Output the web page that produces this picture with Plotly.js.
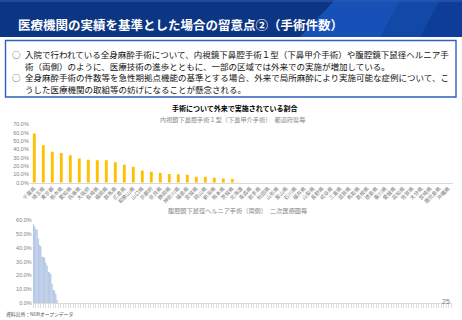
<!DOCTYPE html>
<html>
<head>
<meta charset="utf-8">
<script src="https://cdn.plot.ly/plotly-3.0.1.min.js"></script>
<style>
html,body{margin:0;padding:0;background:#fff;}
#chart{width:462px;height:320px;}
</style>
</head>
<body>
<div id="chart"></div>
<script>
// ---- data ----
const pageTitle = "医療機関の実績を基準とした場合の留意点②（手術件数）";
const bulletLines = [
  "入院で行われている全身麻酔手術について、内視鏡下鼻腔手術１型（下鼻甲介手術）や腹腔鏡下鼠径ヘルニア手",
  "術（両側）のように、医療技術の進歩とともに、一部の区域では外来での実施が増加している。",
  "全身麻酔手術の件数等を急性期拠点機能の基準とする場合、外来で局所麻酔により実施可能な症例について、こ",
  "うした医療機関の取組等の妨げになることが懸念される。"
];
const chartTitle = "手術について外来で実施されている割合";
const subTitle1 = "内視鏡下鼻腔手術１型（下鼻甲介手術）　都道府県毎";
const subTitle2 = "腹腔鏡下鼠径ヘルニア手術（両側）　二次医療圏毎";
const sourceText = "資料出所：NDBオープンデータ";
const pageNumber = "25";

const prefectures = [
  "千葉県","埼玉県","東京都","栃木県","愛知県","兵庫県","大阪府","長崎県","福岡県","群馬県",
  "広島県","和歌山県","山口県","京都府","奈良県","静岡県","神奈川県","福島県","宮城県","岡山県",
  "新潟県","熊本県","茨城県","北海道","青森県","岩手県","秋田県","山形県","富山県","石川県",
  "福井県","山梨県","長野県","岐阜県","三重県","滋賀県","鳥取県","島根県","徳島県","香川県",
  "愛媛県","高知県","佐賀県","大分県","宮崎県","鹿児島県","沖縄県"
];
const prefShare = [
  59, 45, 37, 35.5, 33, 29, 27.5, 27, 27, 24.5,
  21.5, 19, 14.5, 13, 11.5, 10.5, 10, 9.5, 7, 7,
  6, 5, 4.5, 0, 0, 0, 0, 0, 0, 0,
  0, 0, 0, 0, 0, 0, 0, 0, 0, 0,
  0, 0, 0, 0, 0, 0, 0
];

const secondaryAreaCount = 335;
const areaShare = [56.9, 55.5, 53.5, 53, 46.5, 42, 41, 33.6, 33.2, 32.8,
                   29, 27, 22.5, 22, 21, 14, 9.6, 9, 6.5, 2.4];
const areaRank = areaShare.map((v, i) => i + 1);

// ---- chart ----
const JP = '"Noto Sans CJK JP", "Noto Sans", sans-serif';
const NUM = '"Liberation Sans", Arial, sans-serif';
const H = 320, W = 462;
const px = v => v / W;
const py = v => 1 - v / H;

const traces = [
  {type: 'bar', x: prefectures, y: prefShare, xaxis: 'x', yaxis: 'y',
   marker: {color: '#FFC000'}, hoverinfo: 'x+y'},
  {type: 'bar', x: areaRank, y: areaShare, xaxis: 'x2', yaxis: 'y2',
   marker: {color: '#c6d5ec', line: {color: '#93afd9', width: 0.4}}, hoverinfo: 'y'}
];

const annotations = [
  {text: '<b>' + pageTitle + '</b>', x: px(16), y: py(24.5), xanchor: 'left', yanchor: 'middle',
   font: {family: JP, size: 12.5, color: '#ffffff'}},
  {text: '<b>' + chartTitle + '</b>', x: px(234.5), y: py(107.5), xanchor: 'center', yanchor: 'middle',
   font: {family: JP, size: 7, color: '#000000'}},
  {text: subTitle1, x: px(233), y: py(119.3), xanchor: 'center', yanchor: 'middle',
   font: {family: JP, size: 6.2, color: '#8a8a8a'}},
  {text: subTitle2, x: px(237), y: py(210), xanchor: 'center', yanchor: 'middle',
   font: {family: JP, size: 6.2, color: '#8a8a8a'}},
  {text: sourceText, x: px(4), y: py(313.5), xanchor: 'left', yanchor: 'middle',
   font: {family: JP, size: 4.8, color: '#555555'}},
  {text: pageNumber, x: px(452), y: py(301.5), xanchor: 'right', yanchor: 'middle',
   font: {family: NUM, size: 7, color: '#7f7f7f'}}
];
const lineY = [54, 65.5, 77, 88.5];
bulletLines.forEach((t, i) => {
  annotations.push({text: t, x: px(22.5), y: py(lineY[i]), xanchor: 'left', yanchor: 'middle',
    font: {family: JP, size: 8.5, color: '#111111'}});
});
[0, 2].forEach(i => {
  annotations.push({text: '○', x: px(9.5), y: py(lineY[i]), xanchor: 'left', yanchor: 'middle',
    font: {family: JP, size: 8.5, color: '#333333'}});
});
annotations.forEach(a => { a.xref = 'paper'; a.yref = 'paper'; a.showarrow = false; });

const shapes = [
  {type: 'rect', xref: 'paper', yref: 'paper', x0: 0, x1: 1, y0: py(37), y1: 1,
   fillcolor: '#0c3584', line: {width: 0}, layer: 'below'},
  {type: 'path', xref: 'paper', yref: 'paper',
   path: `M ${px(300)} ${py(37)} L ${px(335)} ${py(0)} L 1 ${py(0)} L 1 ${py(37)} Z`,
   fillcolor: '#1248a8', line: {width: 0}, layer: 'below'},
  {type: 'path', xref: 'paper', yref: 'paper',
   path: `M ${px(300)} ${py(37)} L ${px(335)} ${py(0)} L ${px(400)} ${py(0)} L ${px(380)} ${py(37)} Z`,
   fillcolor: '#1a55bd', opacity: 0.7, line: {width: 0}, layer: 'below'},
  {type: 'path', xref: 'paper', yref: 'paper',
   path: `M ${px(420)} ${py(37)} L ${px(440)} ${py(0)} L 1 ${py(0)} L 1 ${py(37)} Z`,
   fillcolor: '#0d3b93', opacity: 0.8, line: {width: 0}, layer: 'below'},
  {type: 'rect', xref: 'paper', yref: 'paper', x0: 0, x1: 1, y0: py(2), y1: 1,
   fillcolor: '#2d5bb0', opacity: 0.6, line: {width: 0}, layer: 'below'},
  {type: 'rect', xref: 'paper', yref: 'paper', x0: px(5.5), x1: px(456), y0: py(97), y1: py(40.5),
   fillcolor: 'rgba(0,0,0,0)', line: {color: '#2f5fbf', width: 1.4}, layer: 'below'}
];

const yTick = {family: NUM, size: 5.5, color: '#7f7f7f'};
const layout = {
  width: W, height: H,
  margin: {l: 0, r: 0, t: 0, b: 0},
  paper_bgcolor: '#ffffff', plot_bgcolor: 'rgba(0,0,0,0)',
  showlegend: false,
  bargap: 0.68,
  xaxis: {domain: [px(29.8), px(452.8)], anchor: 'y', type: 'category',
    tickmode: 'linear', dtick: 1, tickangle: -45,
    tickfont: {family: JP, size: 5.2, color: '#7a7a7a'},
    showline: true, linecolor: '#d9d9d9', linewidth: 1, ticks: '', showgrid: false, zeroline: false,
    fixedrange: true},
  yaxis: {domain: [py(182.7), py(124.3)], anchor: 'x', range: [0, 70], dtick: 10,
    tickformat: '.1f', ticksuffix: '%', tickfont: yTick, showgrid: false, zeroline: false,
    showline: false, ticks: '', fixedrange: true},
  xaxis2: {domain: [px(32.7), px(452)], anchor: 'y2', range: [0.5, secondaryAreaCount + 0.5],
    tickmode: 'linear', tick0: 1, dtick: 2, ticks: 'outside', ticklen: 3.5, tickwidth: 0.6,
    tickcolor: '#c8c8c8', showticklabels: false, showline: true, linecolor: '#d9d9d9',
    linewidth: 1, showgrid: false, zeroline: false, fixedrange: true},
  yaxis2: {domain: [py(303.3), py(220)], anchor: 'x2', range: [0, 60], dtick: 10,
    tickformat: '.1f', ticksuffix: '%', tickfont: yTick, showgrid: false, zeroline: false,
    showline: false, ticks: '', fixedrange: true},
  annotations: annotations,
  shapes: shapes
};

Plotly.newPlot('chart', traces, layout, {displayModeBar: false, staticPlot: true});
</script>
</body>
</html>
